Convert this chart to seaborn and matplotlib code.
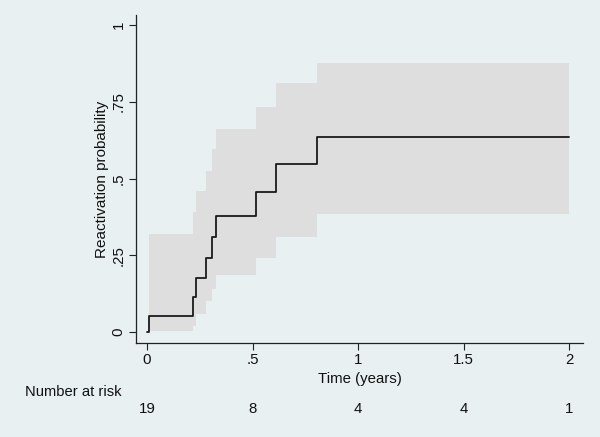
import matplotlib
matplotlib.use("Agg")
import matplotlib.pyplot as plt
import matplotlib.transforms as mtransforms
import pandas as pd
import seaborn as sns

# Kaplan-Meier style failure curve
times = [0.0, 0.01, 0.22, 0.234, 0.28, 0.31, 0.328, 0.517, 0.61, 0.804, 2.0]
prob = [0.0, 0.053, 0.113, 0.177, 0.24, 0.308, 0.377, 0.455, 0.546, 0.636, 0.636]
ci_times = [0.01, 0.22, 0.234, 0.28, 0.31, 0.328, 0.517, 0.61, 0.804, 2.0]
ci_lower = [0.004, 0.02, 0.06, 0.10, 0.14, 0.186, 0.242, 0.31, 0.386, 0.386]
ci_upper = [0.32, 0.39, 0.46, 0.525, 0.595, 0.66, 0.734, 0.81, 0.875, 0.875]

risk_times = [0, 0.5, 1, 1.5, 2]
at_risk = [19, 8, 4, 4, 1]

bg = "#e9f0f2"
sns.set_theme(style="ticks")
plt.rcParams["font.family"] = ["Liberation Sans", "DejaVu Sans"]

fig = plt.figure(figsize=(6, 4.37), dpi=100, facecolor=bg)
ax = fig.add_axes([0.2267, 0.215, 0.745, 0.7507])
ax.set_facecolor(bg)

ax.fill_between(ci_times, ci_lower, ci_upper, step="post",
                color="#dedede", linewidth=0)
df = pd.DataFrame({"time": times, "prob": prob})
sns.lineplot(data=df, x="time", y="prob", drawstyle="steps-post",
             color="#1a1a1a", linewidth=1.3, ax=ax)

ax.set_xlim(-0.052, 2.066)
ax.set_ylim(-0.036, 1.033)
ax.set_xticks(risk_times)
ax.set_xticklabels(["0", ".5", "1", "1.5", "2"])
ax.set_yticks([0, 0.25, 0.5, 0.75, 1])
ax.set_yticklabels(["0", ".25", ".5", ".75", "1"], rotation=90, va="center")
ax.tick_params(length=5, width=0.8, color="#222222", labelsize=10.8,
               labelcolor="#111111", pad=2.5)
ax.set_xlabel("Time (years)", fontsize=10.8, color="#111111", labelpad=3)
ax.set_ylabel("Reactivation probability", fontsize=11, color="#111111",
              labelpad=2)
for s in ["top", "right"]:
    ax.spines[s].set_visible(False)
for s in ["left", "bottom"]:
    ax.spines[s].set_color("#222222")
    ax.spines[s].set_linewidth(0.9)

trans = mtransforms.blended_transform_factory(ax.transData, fig.transFigure)
fig.text(25 / 600, 1 - 392 / 437, "Number at risk", fontsize=10.6,
         color="#111111", va="center", ha="left")
for t, n in zip(risk_times, at_risk):
    ax.text(t, 1 - 409 / 437, str(n), transform=trans, fontsize=10.8,
            color="#111111", ha="center", va="center")

fig.savefig("out.png", dpi=100, facecolor=bg)
